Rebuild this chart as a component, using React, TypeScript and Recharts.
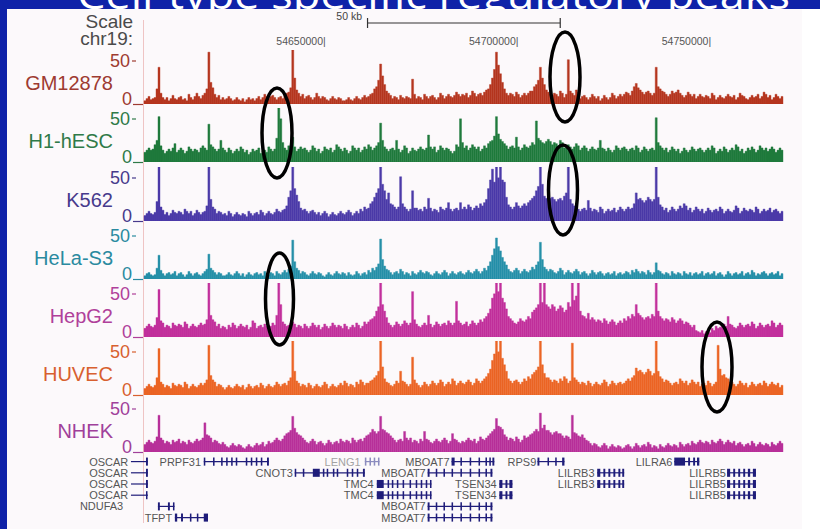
import React from 'react';
import {
  BarChart,
  Bar,
  XAxis,
  YAxis,
  ComposedChart,
  ReferenceLine,
  ReferenceArea,
  ReferenceDot,
} from 'recharts';

// ---------- genomic window (kb) ----------
const START_KB = 54603.1;
const END_KB = 54768.9;
const POSITION_TICKS = [54650, 54700, 54750];
const SCALE_BAR = [54661.1, 54711.1];
const SCALE_LABEL = '50 kb';

// ---------- track names ----------
const TRACK_NAMES = ['GM12878', 'H1-hESC', 'K562', 'HeLa-S3', 'HepG2', 'HUVEC', 'NHEK'];
const TRACK_MAX = 50;

// ---------- signal values (320 bins across the window) ----------
const gm12878 = [
  3,5,7,4,5,6,14,34,10,6,4,6,3,5,8,5,4,6,7,4,5,3,9,6,4,7,10,7,5,8,10,14,48,20,15,9,6,8,4,6,
  4,5,7,5,3,4,6,4,3,5,2,4,6,4,5,3,5,7,4,6,9,7,5,7,8,6,4,6,7,5,8,10,11,15,50,24,13,10,7,9,
  5,7,8,6,4,6,10,7,5,7,6,4,3,5,7,5,4,6,5,3,3,4,6,4,3,5,7,5,4,6,8,6,7,9,10,14,16,22,37,26,
  18,12,10,8,5,7,6,4,8,6,5,7,6,5,23,9,5,7,6,4,9,7,5,7,8,6,4,6,10,8,5,7,9,7,6,8,11,9,7,9,
  8,10,6,8,12,10,7,9,10,8,11,13,14,18,24,32,48,36,28,20,14,10,8,10,9,7,11,9,6,8,10,8,10,12,12,16,18,22,34,24,
  18,13,11,9,8,10,9,7,12,10,6,9,41,12,10,8,13,11,5,7,8,6,4,6,9,7,5,7,3,5,8,6,4,6,10,8,5,7,9,7,
  9,11,10,8,12,16,19,15,13,11,9,11,12,10,8,10,34,16,14,12,11,9,7,9,12,10,11,13,10,8,6,8,11,9,7,9,5,7,9,7,
  6,8,7,5,10,8,4,6,8,6,5,7,9,7,6,8,4,6,10,8,7,5,4,6,8,6,7,9,5,7,11,9,6,8,4,6,9,7,5,7,
];
const h1hesc = [
  9,11,13,11,12,16,20,42,15,11,8,10,12,10,13,17,9,11,13,11,8,10,14,12,10,12,11,9,13,15,13,11,35,16,14,12,10,12,20,13,
  11,9,13,11,8,10,12,10,14,12,9,11,7,9,12,10,11,13,8,10,11,9,14,12,10,12,22,50,40,18,13,11,15,13,23,14,10,12,14,12,
  13,11,9,11,15,13,10,12,8,10,14,12,11,13,9,11,16,14,12,10,13,11,8,10,15,13,11,13,9,11,14,12,16,14,11,13,15,18,36,20,
  14,12,10,12,13,11,20,12,9,11,15,13,8,10,13,11,10,12,14,12,11,13,25,14,12,14,9,11,15,13,11,13,12,10,8,10,16,14,40,18,
  13,15,11,13,16,14,12,14,10,12,15,13,17,19,20,24,42,26,21,19,17,15,12,14,15,13,23,14,11,13,16,14,13,15,18,16,38,22,20,18,
  17,19,21,19,16,18,17,15,20,18,13,15,16,14,12,14,17,15,11,13,15,13,10,12,14,12,11,13,20,13,12,10,13,11,9,11,15,13,11,13,
  14,12,10,12,13,11,15,13,9,11,14,12,10,12,13,11,41,18,15,13,11,13,9,11,14,12,10,12,8,10,13,11,9,11,14,12,10,12,13,11,
  9,11,13,11,15,13,8,10,12,10,14,12,9,11,13,11,16,14,10,12,8,10,13,11,14,12,9,11,15,13,11,13,10,12,14,12,9,11,13,11,
];
const k562 = [
  5,7,9,7,6,8,18,50,13,10,6,8,5,7,10,8,7,9,8,6,11,9,7,9,5,7,10,8,6,8,9,14,50,20,13,11,7,9,8,6,
  7,5,9,7,4,6,8,6,5,7,6,4,9,7,5,7,8,6,10,8,5,7,9,7,6,8,11,9,8,10,11,14,22,28,50,30,24,18,12,10,
  11,9,7,9,10,8,6,8,5,7,9,7,4,6,8,6,5,7,9,7,6,8,10,8,5,7,9,7,11,9,13,11,12,16,18,22,26,30,50,34,
  28,20,26,16,15,13,11,13,41,16,13,11,9,11,28,12,12,10,11,9,13,11,21,12,9,11,10,8,13,11,10,12,17,11,9,11,12,10,17,11,
  13,11,15,13,10,12,14,12,16,14,17,20,30,38,48,36,50,40,50,38,36,22,15,13,11,13,17,14,12,14,16,14,17,19,21,23,28,32,50,34,
  23,21,19,21,22,20,18,20,21,19,23,26,50,20,16,14,13,11,9,11,12,10,19,12,9,11,10,8,13,11,7,9,11,9,10,12,8,10,13,11,
  9,11,13,11,12,16,26,20,21,19,17,19,22,20,18,20,50,22,15,13,10,12,8,10,13,11,9,11,14,12,16,14,10,12,8,10,13,11,9,11,
  7,9,12,10,8,10,11,9,13,11,7,9,11,9,8,10,14,12,7,9,12,10,9,11,10,8,13,11,7,9,11,9,10,12,8,10,11,9,7,9,
];
const helaS3 = [
  3,5,6,4,3,4,10,22,8,5,3,5,6,4,5,7,3,5,6,4,2,4,7,5,3,5,6,4,3,5,7,9,23,10,8,6,4,6,5,3,
  3,4,6,4,3,5,7,5,3,5,2,4,6,4,3,5,6,4,5,3,7,5,4,6,5,3,7,5,4,6,8,6,9,12,36,16,10,8,5,7,
  6,4,3,5,7,5,4,6,5,3,2,4,6,4,3,5,7,5,4,6,5,3,6,4,3,4,7,5,3,5,6,4,8,6,10,8,11,14,37,18,
  12,9,8,6,4,6,7,5,9,7,4,6,5,3,7,5,4,6,8,6,5,7,6,4,3,5,7,5,4,6,8,6,3,5,7,5,4,6,7,5,
  4,6,8,6,5,7,9,7,5,7,10,8,12,16,22,28,38,30,26,20,16,13,9,7,6,8,10,8,5,7,9,7,6,8,11,9,13,16,34,18,
  11,9,7,9,8,6,5,7,10,8,4,6,8,6,5,7,9,7,4,6,7,5,3,5,8,6,4,6,7,5,3,5,6,4,5,7,3,5,6,4,
  5,7,6,4,8,6,9,7,5,7,6,4,8,6,4,6,15,8,7,5,4,6,5,3,7,5,4,6,5,3,7,5,4,6,3,5,6,4,5,7,
  3,5,6,4,5,7,3,5,6,4,2,4,7,5,3,5,6,4,5,7,3,5,6,4,8,6,3,5,4,6,7,5,3,5,6,4,5,7,3,5,
];
const hepg2 = [
  8,10,12,10,9,11,18,44,15,13,9,11,10,8,13,11,10,12,11,9,14,12,8,10,12,10,9,11,13,11,12,16,50,20,16,14,10,12,8,10,
  9,7,11,9,13,11,8,10,12,10,9,11,7,9,15,13,8,10,11,9,12,10,8,10,13,11,20,50,30,14,12,10,11,13,14,12,9,11,10,8,
  12,10,8,10,13,11,9,11,7,9,12,10,8,10,13,11,9,11,10,8,12,10,7,9,11,9,13,11,8,10,14,12,14,16,17,19,24,28,50,30,
  24,18,13,11,9,11,14,12,10,12,15,13,11,13,42,16,12,10,9,11,13,11,20,12,9,11,14,12,10,12,13,11,15,13,11,13,33,15,13,11,
  12,14,10,12,15,13,11,13,16,14,17,19,22,26,36,40,50,42,50,36,32,26,19,17,15,13,12,14,17,15,14,16,19,17,23,25,27,30,50,32,
  50,30,28,26,30,28,24,26,29,27,23,25,32,28,50,34,38,50,24,20,19,17,22,16,18,16,14,16,15,13,17,15,12,14,16,14,11,13,15,13,
  17,15,19,17,21,19,30,22,20,18,16,18,19,17,21,19,50,24,19,17,15,17,16,14,18,16,13,15,17,15,12,14,13,11,9,11,6,5,4,6,
  3,5,6,4,8,6,10,8,9,11,12,10,19,12,11,9,8,10,13,11,9,11,12,10,14,12,8,10,13,11,9,11,12,10,15,13,9,11,13,11,
];
const huvec = [
  6,8,10,8,7,9,16,43,12,10,7,9,8,6,11,9,8,10,9,7,12,10,6,8,10,8,7,9,11,9,11,14,46,18,14,12,8,10,9,7,
  5,7,9,7,6,8,10,8,7,9,5,7,10,8,6,8,9,7,11,9,6,8,10,8,7,9,12,10,8,10,11,9,13,16,50,22,13,11,8,10,
  9,7,11,9,6,8,10,8,7,9,12,10,6,8,10,8,7,9,11,9,13,11,8,10,9,7,12,10,14,12,9,11,11,13,14,16,18,22,50,26,
  15,12,11,9,8,10,13,11,22,13,12,10,8,10,35,14,11,9,7,9,12,10,8,10,13,11,9,11,14,12,8,10,12,10,15,13,9,11,13,11,
  10,12,14,12,9,11,15,13,11,13,15,17,20,24,32,38,50,40,50,34,28,22,15,13,11,13,14,12,10,12,15,13,17,15,19,21,23,26,50,28,
  20,16,16,14,12,14,13,11,15,13,17,15,11,13,48,16,14,12,10,12,11,9,13,11,8,10,12,10,9,11,14,12,8,10,13,11,9,11,12,10,
  11,13,15,13,16,18,25,22,23,21,19,21,24,22,18,20,50,22,17,15,12,14,13,11,9,11,12,10,15,13,11,13,9,11,14,12,10,12,8,10,
  11,9,13,11,8,10,12,46,24,18,19,16,15,12,12,10,8,10,13,11,9,11,7,9,12,10,8,10,11,9,13,11,8,10,12,10,9,11,7,9,
];
const nhek = [
  7,9,11,9,8,10,14,34,13,11,8,10,9,7,11,9,10,12,8,10,9,7,11,9,8,10,12,10,11,13,27,16,15,13,9,11,10,8,7,9,
  7,5,4,6,8,6,5,7,6,4,3,5,7,5,4,6,8,6,7,9,5,7,10,8,9,11,13,11,10,12,15,17,18,20,33,22,18,16,15,13,
  11,9,8,10,12,10,7,9,10,8,6,8,11,9,7,9,10,8,12,10,9,11,10,8,13,11,9,11,12,10,13,15,16,18,21,19,17,19,33,21,
  20,18,17,15,13,11,9,11,12,10,19,13,11,13,9,11,10,8,12,10,19,12,11,9,8,10,12,10,9,11,13,11,8,10,17,12,11,9,8,10,
  9,11,13,11,10,12,8,10,14,12,11,13,15,17,19,21,31,24,23,21,16,14,11,13,12,10,14,12,9,11,15,13,14,16,17,19,21,19,36,22,
  25,20,20,18,16,18,19,17,17,15,13,15,14,12,34,18,17,15,14,16,13,11,10,8,6,8,7,5,4,6,8,6,3,5,7,5,4,6,5,3,
  4,6,7,5,3,5,8,6,4,6,7,5,9,7,4,6,5,3,7,5,4,6,8,6,5,7,6,4,9,7,5,7,8,6,10,8,7,9,11,9,
  8,10,9,7,11,9,8,10,12,10,7,9,11,9,8,10,6,8,9,7,5,7,8,6,10,8,5,7,9,7,6,8,7,5,9,7,6,8,10,8,
];
const TRACK_VALUES = [gm12878, h1hesc, k562, helaS3, hepg2, huvec, nhek];

// ---------- genes (kb coordinates, row index) ----------
const GENES = [
  { name: 'OSCAR', row: 0, start: 54599.7, end: 54604.1, labelEnd: 54599.0, exons: [[54603.6, 54604.1]] },
  { name: 'OSCAR', row: 1, start: 54599.7, end: 54604.1, labelEnd: 54599.0, exons: [[54603.6, 54604.1]] },
  { name: 'OSCAR', row: 2, start: 54599.7, end: 54604.1, labelEnd: 54599.0, exons: [[54603.6, 54604.1]] },
  { name: 'OSCAR', row: 3, start: 54599.7, end: 54604.1, labelEnd: 54599.0, exons: [[54603.6, 54604.0]] },
  { name: 'NDUFA3', row: 4, start: 54606.7, end: 54611.0, labelEnd: 54597.7, exons: [[54606.7, 54607.2], [54609.3, 54609.8], [54610.6, 54611.0]] },
  { name: 'TFPT', row: 5, start: 54611.1, end: 54619.7, labelEnd: 54610.4, exons: [[54611.1, 54611.7], [54612.7, 54613.2], [54615.0, 54615.4], [54616.8, 54617.2], [54618.6, 54619.7]] },
  { name: 'PRPF31', row: 0, start: 54618.6, end: 54635.5, labelEnd: 54617.9, exons: [[54618.6, 54619.0], [54621.0, 54621.4], [54623.1, 54623.5], [54624.4, 54624.8], [54625.7, 54626.1], [54626.9, 54627.3], [54629.5, 54629.9], [54630.8, 54631.2], [54632.1, 54632.5], [54633.4, 54633.8], [54635.0, 54635.5]] },
  { name: 'CNOT3', row: 1, start: 54642.2, end: 54660.4, labelEnd: 54641.7, exons: [[54642.2, 54642.6], [54644.3, 54644.7], [54646.9, 54648.7], [54649.5, 54649.9], [54650.5, 54650.9], [54652.1, 54652.5], [54653.1, 54653.5], [54655.7, 54656.1], [54657.0, 54657.4], [54658.3, 54658.7], [54659.9, 54660.4]] },
  { name: 'LENG1', row: 0, start: 54660.4, end: 54664.2, labelEnd: 54659.3, exons: [[54660.4, 54660.8], [54661.6, 54662.0], [54662.7, 54663.1], [54663.8, 54664.2]] },
  { name: 'TMC4', row: 2, start: 54663.5, end: 54677.7, labelEnd: 54662.7, exons: [[54663.5, 54665.3], [54666.3, 54666.7], [54667.4, 54667.8], [54668.7, 54669.1], [54670.2, 54670.6], [54672.0, 54672.4], [54673.6, 54674.0], [54674.9, 54675.3], [54676.2, 54676.6], [54677.3, 54677.7]] },
  { name: 'TMC4', row: 3, start: 54663.5, end: 54677.7, labelEnd: 54662.7, exons: [[54663.5, 54665.3], [54666.3, 54666.7], [54667.4, 54667.8], [54668.7, 54669.1], [54670.2, 54670.6], [54672.0, 54672.4], [54673.6, 54674.0], [54674.9, 54675.3], [54676.2, 54676.6], [54677.3, 54677.7]] },
  { name: 'MBOAT7', row: 0, start: 54682.9, end: 54694.0, labelEnd: 54682.4, exons: [[54682.9, 54683.7], [54685.2, 54685.6], [54687.6, 54688.0], [54689.9, 54690.3], [54691.7, 54692.1], [54692.7, 54693.1], [54693.5, 54694.0]] },
  { name: 'MBOAT7', row: 1, start: 54676.7, end: 54693.5, labelEnd: 54676.2, exons: [[54676.7, 54677.2], [54678.8, 54679.2], [54680.8, 54681.2], [54682.9, 54683.3], [54685.2, 54685.6], [54687.6, 54688.0], [54689.9, 54690.3], [54691.7, 54692.1], [54693.0, 54693.5]] },
  { name: 'MBOAT7', row: 4, start: 54676.7, end: 54693.5, labelEnd: 54676.2, exons: [[54676.7, 54677.2], [54678.8, 54679.2], [54680.8, 54681.2], [54682.9, 54683.3], [54685.2, 54685.6], [54687.6, 54688.0], [54689.9, 54690.3], [54691.7, 54692.1], [54693.0, 54693.5]] },
  { name: 'MBOAT7', row: 5, start: 54676.7, end: 54693.5, labelEnd: 54676.2, exons: [[54676.7, 54677.2], [54678.8, 54679.2], [54680.8, 54681.2], [54682.9, 54683.3], [54685.2, 54685.6], [54687.6, 54688.0], [54689.9, 54690.3], [54691.7, 54692.1], [54693.0, 54693.5]] },
  { name: 'TSEN34', row: 2, start: 54695.3, end: 54698.7, labelEnd: 54694.6, exons: [[54695.3, 54696.1], [54696.9, 54697.4], [54697.9, 54698.7]] },
  { name: 'TSEN34', row: 3, start: 54695.3, end: 54698.7, labelEnd: 54694.6, exons: [[54695.3, 54696.1], [54696.9, 54697.4], [54697.9, 54698.7]] },
  { name: 'RPS9', row: 0, start: 54705.2, end: 54712.2, labelEnd: 54704.9, exons: [[54705.2, 54705.7], [54707.8, 54708.2], [54709.8, 54710.2], [54711.6, 54712.2]] },
  { name: 'LILRB3', row: 1, start: 54720.7, end: 54727.7, labelEnd: 54720.0, exons: [[54720.7, 54721.5], [54722.3, 54722.8], [54723.6, 54724.1], [54724.9, 54725.4], [54726.2, 54726.7], [54727.2, 54727.7]] },
  { name: 'LILRB3', row: 2, start: 54720.7, end: 54727.7, labelEnd: 54720.0, exons: [[54720.7, 54721.5], [54722.3, 54722.8], [54723.6, 54724.1], [54724.9, 54725.4], [54726.2, 54726.7], [54727.2, 54727.7]] },
  { name: 'LILRA6', row: 0, start: 54740.7, end: 54747.2, labelEnd: 54740.2, exons: [[54740.7, 54743.5], [54744.3, 54744.8], [54745.6, 54746.1], [54746.6, 54747.2]] },
  { name: 'LILRB5', row: 1, start: 54754.4, end: 54761.9, labelEnd: 54754.1, exons: [[54754.4, 54755.2], [54756.0, 54756.5], [54757.3, 54757.8], [54758.6, 54759.1], [54759.8, 54760.4], [54761.1, 54761.9]] },
  { name: 'LILRB5', row: 2, start: 54754.4, end: 54761.9, labelEnd: 54754.1, exons: [[54754.4, 54755.2], [54756.0, 54756.5], [54757.3, 54757.8], [54758.6, 54759.1], [54759.8, 54760.4], [54761.1, 54761.9]] },
  { name: 'LILRB5', row: 3, start: 54754.4, end: 54761.9, labelEnd: 54754.1, exons: [[54754.4, 54755.2], [54756.0, 54756.5], [54757.3, 54757.8], [54758.6, 54759.1], [54759.8, 54760.4], [54761.1, 54761.9]] },
];
const FADED_GENES = ['LENG1'];

// ---------- styling / layout ----------
const FONT = '"Liberation Sans", Arial, Helvetica, sans-serif';
const TRACK_COLORS = ['#b5361f', '#1f7a3c', '#4b3aa8', '#2590a8', '#c2309c', '#ec6525', '#b8309a'];
const LABEL_COLORS = ['#9e3b31', '#2f7a48', '#473a8c', '#2a8aa0', '#b0409a', '#d8602f', '#a0409a'];
const BASELINES = [104, 162, 221, 279, 337, 395, 452];
const TRACK_H = 54;
const W = 820;
const PLOT_LEFT = 144;
const PLOT_RIGHT_MARGIN = 37;
const MARGIN = { top: 0, right: PLOT_RIGHT_MARGIN, bottom: 0, left: PLOT_LEFT };
const GENE_ROW0 = 462;
const GENE_STEP = 11.2;
const GENE_TOP = GENE_ROW0 - 0.5 * GENE_STEP;
const GENE_H = 6 * GENE_STEP;
const GENE_COLOR = '#1f1d7a';
const FADED_COLOR = '#8c8cbf';
const BLUE = '#0f22a8';

const Track = ({ idx }: { idx: number }) => {
  const data = TRACK_VALUES[idx].map((v, i) => ({ i, v }));
  const color = TRACK_COLORS[idx];
  return (
    <div style={{ position: 'absolute', left: 0, top: BASELINES[idx] - TRACK_H, width: W, height: TRACK_H }}>
      <BarChart width={W} height={TRACK_H} data={data} margin={MARGIN} barCategoryGap={0} barGap={0}>
        <XAxis dataKey="i" hide />
        <YAxis hide domain={[0, TRACK_MAX]} allowDataOverflow />
        <Bar dataKey="v" fill={color} stroke={color} strokeWidth={0.4} isAnimationActive={false} />
      </BarChart>
    </div>
  );
};

const RulerTick = (props: any) => {
  const { x, payload } = props;
  return (
    <text x={x + 1} y={45} textAnchor="end" fontSize={10.5} fill="#555" fontFamily={FONT}>
      {`${Math.round(payload.value * 1000)}|`}
    </text>
  );
};

const Ruler = () => (
  <div style={{ position: 'absolute', left: 0, top: 0, width: W, height: 80 }}>
    <ComposedChart width={W} height={80} margin={MARGIN} data={[]}>
      <XAxis
        type="number"
        dataKey="x"
        domain={[START_KB, END_KB]}
        ticks={POSITION_TICKS}
        interval={0}
        height={30}
        axisLine={false}
        tickLine={false}
        tick={<RulerTick />}
        allowDataOverflow
      />
      <YAxis type="number" domain={[0, 50]} reversed hide allowDataOverflow />
      <ReferenceLine
        segment={[{ x: SCALE_BAR[0], y: 23 }, { x: SCALE_BAR[1], y: 23 }]}
        stroke="#333"
        strokeWidth={1.2}
        ifOverflow="visible"
      />
      <ReferenceLine
        segment={[{ x: SCALE_BAR[0], y: 18 }, { x: SCALE_BAR[0], y: 28 }]}
        stroke="#333"
        strokeWidth={1.2}
        ifOverflow="visible"
      />
      <ReferenceLine
        segment={[{ x: SCALE_BAR[1], y: 18 }, { x: SCALE_BAR[1], y: 28 }]}
        stroke="#333"
        strokeWidth={1.2}
        ifOverflow="visible"
      />
    </ComposedChart>
  </div>
);

const Genes = () => (
  <div style={{ position: 'absolute', left: 0, top: GENE_TOP, width: W, height: GENE_H }}>
    <ComposedChart width={W} height={GENE_H} margin={MARGIN} data={[]}>
      <XAxis type="number" dataKey="x" domain={[START_KB, END_KB]} hide allowDataOverflow />
      <YAxis type="number" dataKey="y" domain={[-0.5, 5.5]} reversed hide allowDataOverflow />
      {GENES.map((g, k) => {
        const faded = FADED_GENES.includes(g.name);
        return (
          <ReferenceLine
            key={`l${k}`}
            segment={[{ x: g.start, y: g.row }, { x: g.end, y: g.row }]}
            stroke={faded ? FADED_COLOR : GENE_COLOR}
            strokeWidth={1.2}
            ifOverflow="visible"
          />
        );
      })}
      {GENES.flatMap((g, k) =>
        g.exons.map((ex, j) => {
          const faded = FADED_GENES.includes(g.name);
          return (
            <ReferenceArea
              key={`e${k}-${j}`}
              x1={ex[0]}
              x2={ex[1]}
              y1={g.row - 0.36}
              y2={g.row + 0.36}
              fill={faded ? FADED_COLOR : GENE_COLOR}
              fillOpacity={1}
              stroke="none"
              ifOverflow="visible"
            />
          );
        })
      )}
      {GENES.map((g, k) => {
        const faded = FADED_GENES.includes(g.name);
        return (
          <ReferenceDot
            key={`t${k}`}
            x={g.labelEnd}
            y={g.row}
            r={0}
            ifOverflow="visible"
            shape={(p: any) => (
              <text
                x={p.cx}
                y={p.cy + 4}
                textAnchor="end"
                fontSize={11}
                fill={faded ? '#a3a3a3' : '#555'}
                fontFamily={FONT}
              >
                {g.name}
              </text>
            )}
          />
        );
      })}
    </ComposedChart>
  </div>
);

const ELLIPSES = [
  { cx: 565, cy: 77, rx: 15, ry: 45 },
  { cx: 277, cy: 133, rx: 15, ry: 45 },
  { cx: 563, cy: 190, rx: 14.5, ry: 45 },
  { cx: 279.5, cy: 299, rx: 14, ry: 46 },
  { cx: 717, cy: 367, rx: 15, ry: 45 },
];

export default function App() {
  return (
    <div
      style={{
        position: 'absolute',
        left: 0,
        top: 0,
        width: W,
        height: 529,
        overflow: 'hidden',
        background: BLUE,
      }}
    >
      <svg width={W} height={529} style={{ position: 'absolute', left: 0, top: 0 }}>
        <text
          x={77}
          y={8.5}
          fontSize={40}
          fill="#ffffff"
          fontFamily='"Open Sans", "Noto Sans", sans-serif'
          textLength={713}
          lengthAdjust="spacingAndGlyphs"
        >
          Cell-type specific regulatory peaks
        </text>
      </svg>
      <div style={{ position: 'absolute', left: 7, top: 9, width: 813, height: 520, background: '#fcf9fb' }} />
      <div style={{ position: 'absolute', left: 802, top: 9, width: 18, height: 520, background: '#ffffff' }} />
      <svg width={W} height={529} style={{ position: 'absolute', left: 0, top: 0 }}>
        <line x1={143.5} y1={20} x2={143.5} y2={523} stroke="#efc4c4" strokeWidth={1} />
      </svg>
      <Ruler />
      {TRACK_NAMES.map((_, i) => (
        <Track key={i} idx={i} />
      ))}
      <Genes />
      <svg width={W} height={529} style={{ position: 'absolute', left: 0, top: 0, pointerEvents: 'none' }}>
        <text x={133} y={28} textAnchor="end" fontSize={19} fill="#4a4a4a" fontFamily={FONT}>
          Scale
        </text>
        <text x={133} y={45} textAnchor="end" fontSize={19} fill="#4a4a4a" fontFamily={FONT}>
          chr19:
        </text>
        <text x={362} y={20} textAnchor="end" fontSize={10.5} fill="#444" fontFamily={FONT}>
          {SCALE_LABEL}
        </text>
        {TRACK_NAMES.map((name, i) => {
          const b = BASELINES[i];
          const c = LABEL_COLORS[i];
          return (
            <g key={name}>
              <text x={113} y={b - 14} textAnchor="end" fontSize={20} fill={c} fontFamily={FONT}>
                {name}
              </text>
              <text x={130} y={b - 37} textAnchor="end" fontSize={18} fill={c} fontFamily={FONT}>
                {TRACK_MAX}
              </text>
              <line x1={132} y1={b - 43} x2={136} y2={b - 43} stroke={c} strokeWidth={1.2} />
              <text x={132} y={b + 1} textAnchor="end" fontSize={18} fill={c} fontFamily={FONT}>
                0
              </text>
              <line x1={133} y1={b + 0.5} x2={143} y2={b + 0.5} stroke={c} strokeWidth={1.2} />
            </g>
          );
        })}
        {ELLIPSES.map((e, k) => (
          <ellipse key={k} cx={e.cx} cy={e.cy} rx={e.rx} ry={e.ry} fill="none" stroke="#000" strokeWidth={3.5} />
        ))}
      </svg>
    </div>
  );
}
